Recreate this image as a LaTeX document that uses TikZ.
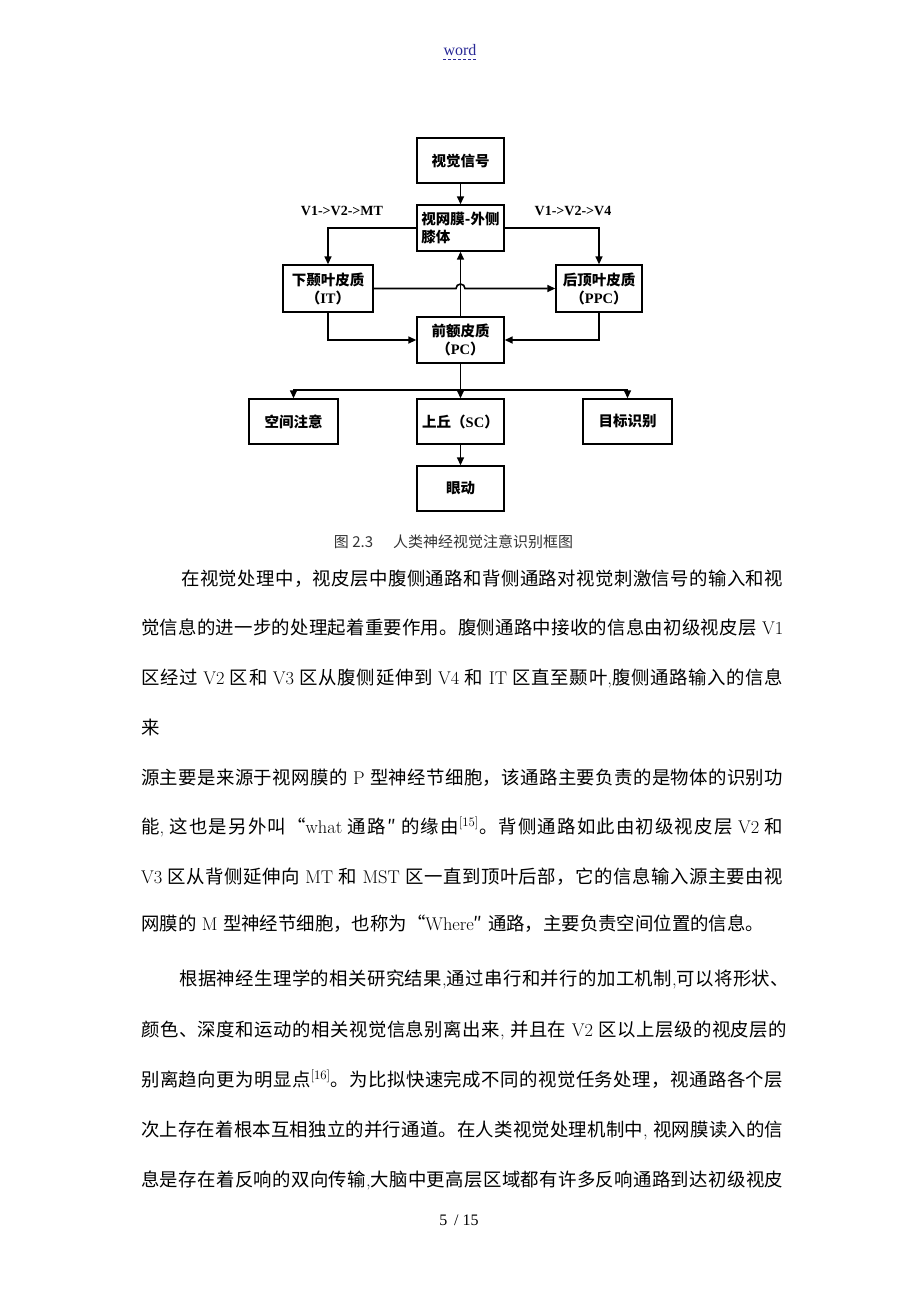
\documentclass[tikz,border=0pt]{standalone}
\usepackage{fontspec}
\usetikzlibrary{arrows.meta,calc}
\newfontfamily\cjk{Noto Sans CJK SC}
\newfontfamily\tms{Liberation Serif}
\definecolor{lnk}{RGB}{40,40,150}
\newcommand\cjkglue{\hskip 0pt plus 3pt minus 0.5pt\relax}
\chardef\cjkcls=7
\makeatletter
\count@="3000
\loop \XeTeXcharclass\count@=\cjkcls \advance\count@ by 1 \ifnum\count@<"3040 \repeat
\count@="4E00
\loop \XeTeXcharclass\count@=\cjkcls \advance\count@ by 1 \ifnum\count@<"A000 \repeat
\count@="FF00
\loop \XeTeXcharclass\count@=\cjkcls \advance\count@ by 1 \ifnum\count@<"FF60 \repeat
\XeTeXcharclass"201C=\cjkcls
\XeTeXcharclass"201D=\cjkcls
\XeTeXcharclass"2033=\cjkcls
\makeatother
\XeTeXinterchartoks \cjkcls \cjkcls = {\cjkglue}
\newcommand\latn[1]{{\rmfamily #1}}
\newcommand\bl[2]{\hbox to #1{\XeTeXinterchartokenstate=1 \cjk\fontsize{18.4}{20}\selectfont\spaceskip=5.5pt\relax #2}}
\newcommand\blnat[1]{\hbox{\cjk\fontsize{18.4}{20}\selectfont\spaceskip=5.5pt\relax #1}}
\newcommand\dgf{\fontsize{14.5}{18}\selectfont\cjk\bfseries}
\begin{document}
\begin{tikzpicture}[x=1pt,y=-1pt,
 box/.style={draw,line width=1.4pt,minimum width=87pt,minimum height=45pt,inner sep=1pt,align=center,font=\dgf},
 conn/.style={line width=1.6pt},
 arr/.style={conn,-{Triangle[length=8pt,width=7pt]}},
 body/.style={anchor=base west,inner sep=0pt}]
\fill[white] (0,0) rectangle (920,1302);
% header and footer
\node[font=\tms\fontsize{16}{18}\selectfont,text=lnk,inner sep=0pt] (hdr) at (460,50) {word};
\draw[lnk,line width=1pt,dash pattern=on 3pt off 2pt] ([yshift=-4pt]hdr.south west) -- ([yshift=-4pt]hdr.south east);
\node[font=\tms\fontsize{16}{18}\selectfont] (pg) at (459,1220) {5\, / 15};
% diagram
\node[box] (sig) at (460.5,160.5) {视觉信号};
\node[box,minimum height=46pt,align=left] (ret) at (460.5,228) {视网膜-外侧\\膝体};
\node[box,minimum width=90pt,minimum height=47pt] (it) at (328,288.5) {下颞叶皮质\\（{\tms IT}）};
\node[box,minimum width=86pt,minimum height=47pt] (ppc) at (599,288.5) {后顶叶皮质\\（{\tms PPC}）};
\node[box,minimum height=46pt] (pc) at (460.5,340) {前额皮质\\（{\tms PC}）};
\node[box,minimum width=89pt] (spa) at (293.5,421.5) {空间注意};
\node[box] (sc) at (460.5,421.5) {上丘（{\tms SC}）};
\node[box,minimum width=89pt] (tgt) at (627.5,421.5) {目标识别};
\node[box] (eye) at (460.5,488.5) {眼动};
\node[font=\tms\bfseries\fontsize{14}{16}\selectfont] (lab1) at (342,211) {V1->V2->MT};
\node[font=\tms\bfseries\fontsize{14}{16}\selectfont] (lab2) at (573,211) {V1->V2->V4};
\draw[arr] (sig) -- (ret);
\draw[arr] (ret.west) -| (it.north);
\draw[arr] (ret.east) -| (ppc.north);
\draw[arr] (pc) -- (ret);
\draw[arr] (it.south) |- (pc.west);
\draw[arr] (ppc.south) |- (pc.east);
\coordinate (hopL) at ($(pc.north |- it.east)+(-4.5,0)$);
\draw[arr] (it.east) -- (hopL) arc[start angle=180,end angle=360,radius=4.5] -- (ppc.west);
\coordinate (spl) at ($(pc.south)+(0,26)$);
\draw[conn] (pc.south) -- (spl);
\draw[arr] (spl) -| (spa.north);
\draw[arr] (spl) -| (tgt.north);
\draw[arr] (spl) -- (sc.north);
\draw[arr] (sc) -- (eye);
\node[font=\cjk\fontsize{15}{17}\selectfont,text=black!80] (cap) at (453.5,542) {图 2.3\hspace{20pt}人类神经视觉注意识别框图};
% body text
\node[body] (t1) at (181,585) {\bl{602pt}{在视觉处理中，视皮层中腹侧通路和背侧通路对视觉刺激信号的输入和视}};
\node[body] (t2) at (141,634) {\bl{642pt}{觉信息的进一步的处理起着重要作用。腹侧通路中接收的信息由初级视皮层 \latn{V1}}};
\node[body] (t3) at (141,684) {\bl{642pt}{区经过 \latn{V2} 区和 \latn{V3} 区从腹侧延伸到 \latn{V4} 和 \latn{IT} 区直至颞叶\latn{,}腹侧通路输入的信息}};
\node[body] (t4) at (141,734) {\blnat{来}};
\node[body] (t5) at (141,784) {\bl{642pt}{源主要是来源于视网膜的 \latn{P} 型神经节细胞，该通路主要负责的是物体的识别功}};
\node[body] (t6) at (141,833) {\bl{642pt}{能\latn{,} 这也是另外叫“\latn{what} 通路″ 的缘由\latn{\textsuperscript{[15]}}。背侧通路如此由初级视皮层 \latn{V2} 和}};
\node[body] (t7) at (141,883) {\bl{642pt}{\latn{V3} 区从背侧延伸向 \latn{MT} 和 \latn{MST} 区一直到顶叶后部，它的信息输入源主要由视}};
\node[body] (t8) at (141,930) {\blnat{网膜的 \latn{M} 型神经节细胞，也称为“\latn{Where}″ 通路，主要负责空间位置的信息。}};
\node[body] (t9) at (179,985) {\bl{610pt}{根据神经生理学的相关研究结果\latn{,}通过串行和并行的加工机制\latn{,}可以将形状、}};
\node[body] (t10) at (141,1036) {\bl{646pt}{颜色、深度和运动的相关视觉信息别离出来\latn{,} 并且在 \latn{V2} 区以上层级的视皮层的}};
\node[body] (t11) at (141,1086) {\bl{642pt}{别离趋向更为明显点\latn{\textsuperscript{[16]}}。为比拟快速完成不同的视觉任务处理，视通路各个层}};
\node[body] (t12) at (141,1136) {\bl{642pt}{次上存在着根本互相独立的并行通道。在人类视觉处理机制中\latn{,} 视网膜读入的信}};
\node[body] (t13) at (141,1186) {\bl{642pt}{息是存在着反响的双向传输\latn{,}大脑中更高层区域都有许多反响通路到达初级视皮}};
\end{tikzpicture}
\end{document}
